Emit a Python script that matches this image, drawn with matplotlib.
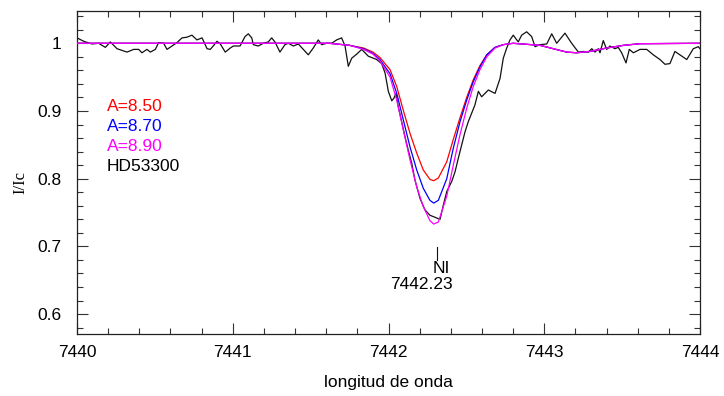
import matplotlib
matplotlib.use("Agg")
import matplotlib.pyplot as plt
from matplotlib.ticker import MultipleLocator

# Observed spectrum of HD53300 around the N I 7442.23 line
wl_obs = [7440.000, 7440.043, 7440.096, 7440.139, 7440.182, 7440.214, 7440.257, 7440.321,
          7440.364, 7440.396, 7440.417, 7440.449, 7440.471, 7440.503, 7440.524, 7440.556,
          7440.578, 7440.610, 7440.642, 7440.674, 7440.706, 7440.738, 7440.770, 7440.803,
          7440.835, 7440.856, 7440.878, 7440.899, 7440.920, 7440.952, 7440.984, 7441.004,
          7441.047, 7441.079, 7441.100, 7441.122, 7441.132, 7441.164, 7441.196, 7441.228,
          7441.250, 7441.271, 7441.303, 7441.335, 7441.357, 7441.389, 7441.421, 7441.453,
          7441.485, 7441.517, 7441.549, 7441.571, 7441.603, 7441.635, 7441.667, 7441.699,
          7441.721, 7441.742, 7441.764, 7441.796, 7441.828, 7441.849, 7441.870, 7441.902,
          7441.924, 7441.956, 7441.978, 7441.999, 7442.021, 7442.035, 7442.048, 7442.063,
          7442.085, 7442.106, 7442.127, 7442.149, 7442.170, 7442.202, 7442.234, 7442.266,
          7442.299, 7442.331, 7442.352, 7442.374, 7442.406, 7442.427, 7442.448, 7442.470,
          7442.491, 7442.512, 7442.534, 7442.555, 7442.577, 7442.598, 7442.620, 7442.641,
          7442.684, 7442.716, 7442.737, 7442.759, 7442.780, 7442.801, 7442.833, 7442.855,
          7442.887, 7442.919, 7442.941, 7442.973, 7443.016, 7443.048, 7443.080, 7443.133,
          7443.176, 7443.219, 7443.251, 7443.283, 7443.305, 7443.326, 7443.347, 7443.358,
          7443.379, 7443.401, 7443.422, 7443.454, 7443.475, 7443.497, 7443.525, 7443.546,
          7443.572, 7443.615, 7443.658, 7443.700, 7443.743, 7443.775, 7443.807, 7443.839,
          7443.871, 7443.915, 7443.957, 7443.989, 7444.000]
flux_obs = [1.008, 1.003, 0.999, 1.000, 0.994, 1.002, 0.992, 0.987,
            0.991, 0.991, 0.986, 0.991, 0.987, 0.991, 1.001, 1.000,
            0.991, 0.996, 1.001, 1.008, 1.009, 1.012, 1.005, 1.008,
            0.992, 0.991, 0.997, 1.003, 0.999, 0.987, 0.993, 0.996,
            0.996, 1.010, 1.014, 1.008, 0.998, 0.996, 1.000, 1.002,
            1.008, 1.002, 0.987, 0.998, 1.000, 0.996, 0.999, 0.991,
            0.983, 0.993, 1.005, 0.998, 1.000, 1.000, 1.005, 1.008,
            0.996, 0.966, 0.978, 0.984, 0.991, 0.986, 0.981, 0.978,
            0.976, 0.970, 0.956, 0.929, 0.915, 0.919, 0.926, 0.906,
            0.884, 0.862, 0.842, 0.823, 0.798, 0.771, 0.754, 0.746,
            0.743, 0.740, 0.761, 0.781, 0.796, 0.810, 0.830, 0.850,
            0.869, 0.884, 0.897, 0.909, 0.929, 0.921, 0.926, 0.931,
            0.926, 0.948, 0.978, 0.993, 1.005, 1.012, 1.002, 1.012,
            1.017, 1.010, 0.995, 0.998, 0.999, 1.014, 1.000, 1.015,
            1.000, 0.987, 0.988, 0.987, 0.992, 0.987, 0.992, 0.986,
            1.004, 0.991, 0.996, 0.992, 0.994, 0.986, 0.971, 0.991,
            0.986, 0.991, 0.991, 0.983, 0.976, 0.969, 0.970, 0.988,
            0.983, 0.976, 0.992, 0.995, 0.992]

# Synthetic spectra for three nitrogen abundances
wl_syn = [7440.000, 7441.620, 7441.750, 7441.840, 7441.900, 7441.945, 7442.010, 7442.053,
          7442.095, 7442.138, 7442.181, 7442.223, 7442.266, 7442.290, 7442.320, 7442.374,
          7442.416, 7442.459, 7442.502, 7442.544, 7442.587, 7442.631, 7442.684, 7442.737,
          7442.800, 7442.973, 7443.058, 7443.144, 7443.208, 7443.294, 7443.400, 7443.510,
          7443.615, 7444.000]
flux_a850 = [1.000, 1.000, 0.997, 0.993, 0.987, 0.979, 0.961, 0.936,
             0.901, 0.867, 0.838, 0.813, 0.799, 0.797, 0.801, 0.825,
             0.858, 0.890, 0.920, 0.946, 0.967, 0.983, 0.994, 0.998,
             1.000, 0.997, 0.992, 0.987, 0.986, 0.988, 0.993, 0.997,
             0.9994, 1.000]
flux_a870 = [1.000, 1.000, 0.997, 0.992, 0.985, 0.976, 0.955, 0.926,
             0.887, 0.847, 0.813, 0.786, 0.768, 0.764, 0.768, 0.800,
             0.845, 0.884, 0.916, 0.943, 0.965, 0.983, 0.994, 0.998,
             1.000, 0.997, 0.992, 0.987, 0.986, 0.988, 0.993, 0.997,
             0.9994, 1.000]
flux_a890 = [1.000, 1.000, 0.997, 0.991, 0.984, 0.974, 0.950, 0.916,
             0.872, 0.828, 0.788, 0.759, 0.738, 0.733, 0.736, 0.774,
             0.820, 0.865, 0.904, 0.936, 0.961, 0.980, 0.993, 0.998,
             1.000, 0.997, 0.992, 0.987, 0.986, 0.988, 0.993, 0.997,
             0.9994, 1.000]

series_labels = ["A=8.50", "A=8.70", "A=8.90", "HD53300"]
series_colors = ["#ff0000", "#0000ff", "#ff00ff", "#000000"]

line_wl = 7442.31
line_name = "NI"
line_label = "7442.23"

x_ticks = [7440, 7441, 7442, 7443, 7444]
y_ticks = [0.6, 0.7, 0.8, 0.9, 1.0]
y_tick_labels = ["0.6", "0.7", "0.8", "0.9", "1"]

plt.rcParams["font.family"] = ["Liberation Sans", "DejaVu Sans"]
FS = 12.5

W, H = 724, 396
fig = plt.figure(figsize=(W / 100, H / 100), dpi=100)
ax = fig.add_axes([77 / W, 1 - 334 / H, (700 - 77) / W, (334 - 11) / H])

ax.plot(wl_obs, flux_obs, color="#111111", lw=0.9, zorder=2)
ax.plot(wl_syn, flux_a850, color=series_colors[0], lw=0.9, zorder=3)
ax.plot(wl_syn, flux_a870, color=series_colors[1], lw=0.9, zorder=4)
ax.plot(wl_syn, flux_a890, color=series_colors[2], lw=0.9, zorder=5)

ax.set_xlim(7440, 7444)
ax.set_ylim(0.5706, 1.0477)

ax.set_xticks(x_ticks)
ax.set_xticklabels([str(t) for t in x_ticks])
ax.set_yticks(y_ticks)
ax.set_yticklabels(y_tick_labels)
ax.xaxis.set_minor_locator(MultipleLocator(0.2))
ax.yaxis.set_minor_locator(MultipleLocator(0.02))

ax.tick_params(which="both", direction="in", top=True, right=True,
               color="#333333", width=0.8, labelsize=FS)
ax.tick_params(which="major", length=8)
ax.tick_params(which="minor", length=4)
ax.tick_params(axis="x", which="major", pad=8)
ax.tick_params(axis="y", which="major", pad=11)
for sp in ax.spines.values():
    sp.set_linewidth(0.9)
    sp.set_color("#222222")

# series labels
for i, (lab, col) in enumerate(zip(series_labels, series_colors)):
    ax.text(7440.19, 0.907 - i * 0.0295, lab, color=col, fontsize=FS,
            ha="left", va="center")

# line identification
ax.plot([line_wl, line_wl], [0.6996, 0.680], color="#111111", lw=0.8)
ax.text(7442.283, 0.668, line_name, fontsize=FS, ha="left", va="center")
ax.text(7442.010, 0.644, line_label, fontsize=FS, ha="left", va="center")

fig.text(388.5 / W, 1 - 382 / H, "longitud de onda", fontsize=FS,
         ha="center", va="center")
fig.text(20 / W, 1 - 183 / H, "I/Ic", fontsize=12, rotation=90,
         ha="center", va="center", family=["Liberation Serif", "DejaVu Serif"])

fig.savefig("out.png", dpi=100)
